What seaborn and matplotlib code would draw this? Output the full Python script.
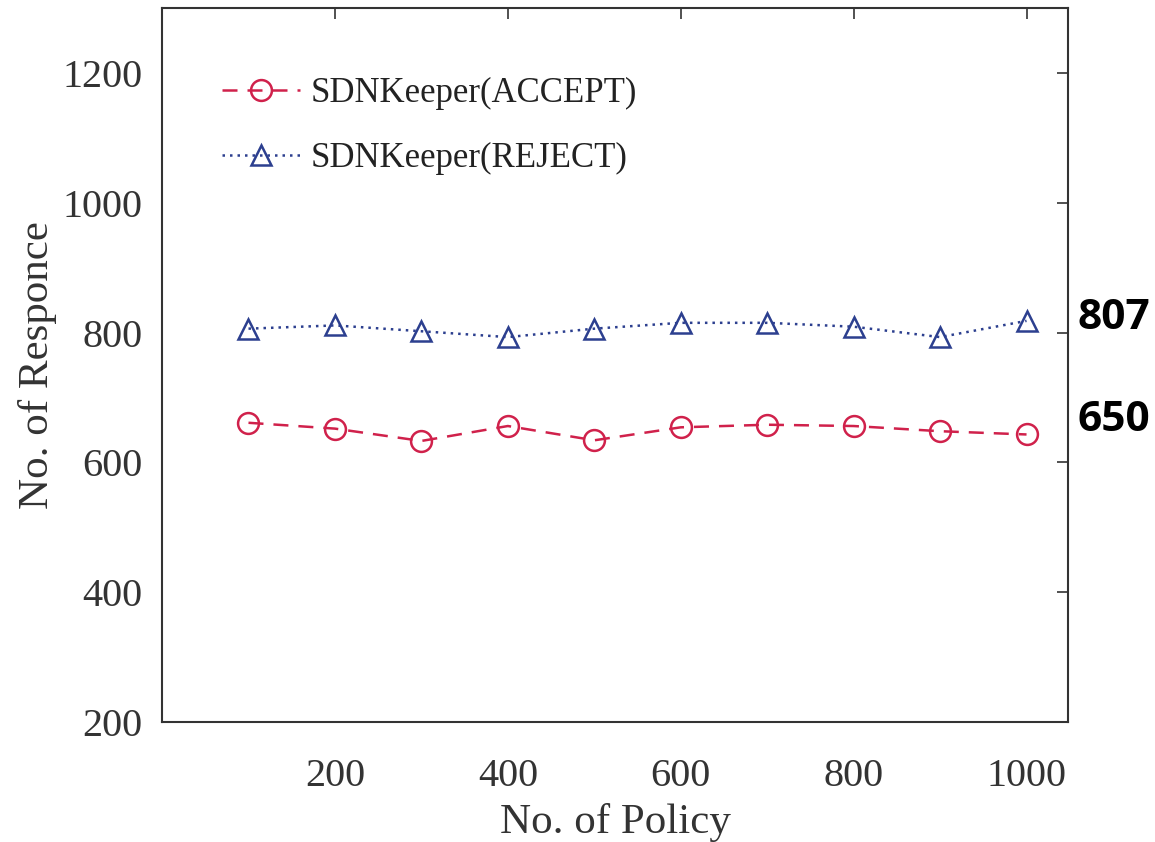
import pandas as pd
import numpy as np
import seaborn as sns
import matplotlib.pyplot as plt

policies = [100, 200, 300, 400, 500, 600, 700, 800, 900, 1000]
accept = [661, 652, 633, 656, 634, 654, 658, 656, 648, 643]
reject = [806, 811, 802, 793, 806, 815, 815, 809, 793, 818]
series_names = ["SDNKeeper(ACCEPT)", "SDNKeeper(REJECT)"]
avg_labels = ["807", "650"]
avg_values = [807, 650]

df = pd.DataFrame({
    "policy": policies * 2,
    "resp": accept + reject,
    "series": [series_names[0]] * len(policies) + [series_names[1]] * len(policies),
})

sns.set_style("white")
plt.rcParams["font.family"] = ["Liberation Serif", "DejaVu Serif"]

fig = plt.figure(figsize=(11.55, 8.42), dpi=100)
ax = fig.add_axes([0.1403, 0.1425, 0.7844, 0.848])

colors = {series_names[0]: "#d0214b", series_names[1]: "#2c3f8f"}
sns.lineplot(
    data=df, x="policy", y="resp", hue="series", style="series",
    palette=colors,
    dashes={series_names[0]: (6, 4), series_names[1]: (1, 2)},
    markers={series_names[0]: "o", series_names[1]: "^"},
    markersize=15, markerfacecolor="none", markeredgewidth=1.8,
    linewidth=1.8, ax=ax,
)
for line in ax.lines:
    line.set_markerfacecolor("none")
    line.set_markeredgecolor(line.get_color())

ax.set_xlim(0, 1048)
ax.set_ylim(200, 1300)
ax.set_xticks([200, 400, 600, 800, 1000])
ax.set_yticks([200, 400, 600, 800, 1000, 1200])
ax.tick_params(direction="in", length=8, width=1.2, labelsize=29,
               colors="#333333", top=True, right=True)
ax.tick_params(axis="x", pad=26)
ax.tick_params(axis="y", pad=14)
for s in ax.spines.values():
    s.set_color("#333333")
    s.set_linewidth(1.5)

ax.set_xlabel("No. of Policy", fontsize=31, color="#333333", labelpad=6)
ax.set_ylabel("No. of Responce", fontsize=31, color="#333333", labelpad=4)

leg = ax.legend(loc="upper left", bbox_to_anchor=(0.066, 0.903), frameon=False,
                borderaxespad=0, borderpad=0,
                fontsize=25, handlelength=2.25, labelspacing=0.92, handletextpad=0.3)
for t in leg.get_texts():
    t.set_color("#222222")
for h in leg.get_lines():
    h.set_markerfacecolor("none")

for lab, val in zip(avg_labels, avg_values):
    ax.annotate(lab, xy=(1, val), xycoords=("axes fraction", "data"),
                xytext=(7, 7), textcoords="offset points", va="center",
                fontsize=30.5, fontweight="bold", family=["Open Sans", "DejaVu Sans"],
                color="black", annotation_clip=False)

fig.savefig("out.png", dpi=100)
